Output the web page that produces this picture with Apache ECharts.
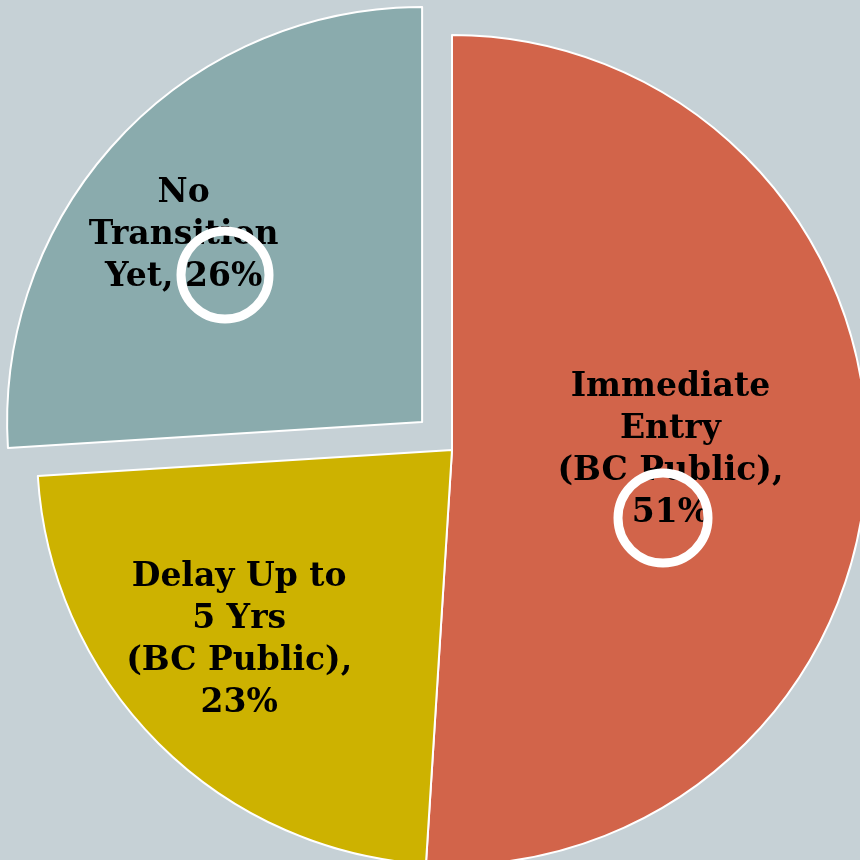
<!DOCTYPE html>
<html>
<head>
<meta charset="utf-8">
<script src="https://cdn.jsdelivr.net/npm/echarts@6/dist/echarts.min.js"></script>
<style>
  html, body { margin: 0; padding: 0; background: #c6d1d6; }
  #chart { width: 860px; height: 860px; }
</style>
</head>
<body>
<div id="chart"></div>
<script>
const categories = ['Immediate\nEntry\n(BC Public),', 'Delay Up to\n5 Yrs\n(BC Public),', 'No\nTransition\nYet,']
const values = [51, 23, 26]
const colors = ['#d2644a', '#cdb200', '#8aabad']
// nudges to move labels off the default inside spot
const labelShift = [[8, -6], [-64, 42], [-85, -42]]

const chart = echarts.init(document.getElementById('chart'))

const option = {
  backgroundColor: '#c6d1d6',
  animation: false,
  series: [
    {
      type: 'pie',
      center: [452, 450],
      radius: 415,
      startAngle: 90,
      selectedMode: 'single',
      selectedOffset: 41,
      emphasis: { disabled: true },
      itemStyle: {
        borderColor: '#ffffff',
        borderWidth: 2
      },
      label: {
        show: true,
        position: 'inside',
        formatter: function (p) {
          return p.name + (p.dataIndex === 2 ? ' ' : '\n') + p.value + '%'
        },
        fontFamily: 'DejaVu Serif',
        fontWeight: 'bold',
        fontSize: 33,
        lineHeight: 42,
        color: '#000000',
        align: 'center'
      },
      labelLine: { show: false },
      labelLayout: function (params) {
        const s = labelShift[params.dataIndex]
        return { dx: s[0], dy: s[1] }
      },
      data: categories.map((c, i) => ({
        name: c,
        value: values[i],
        selected: i === 2,
        itemStyle: { color: colors[i] }
      }))
    }
  ],
  graphic: [
    {
      type: 'circle',
      shape: { cx: 225, cy: 275, r: 44 },
      style: { fill: 'none', stroke: '#ffffff', lineWidth: 9 },
      z: 100
    },
    {
      type: 'circle',
      shape: { cx: 663, cy: 518, r: 45 },
      style: { fill: 'none', stroke: '#ffffff', lineWidth: 9 },
      z: 100
    }
  ]
}

chart.setOption(option)
window.addEventListener('resize', () => {
  chart && chart.resize()
})
</script>
</body>
</html>
